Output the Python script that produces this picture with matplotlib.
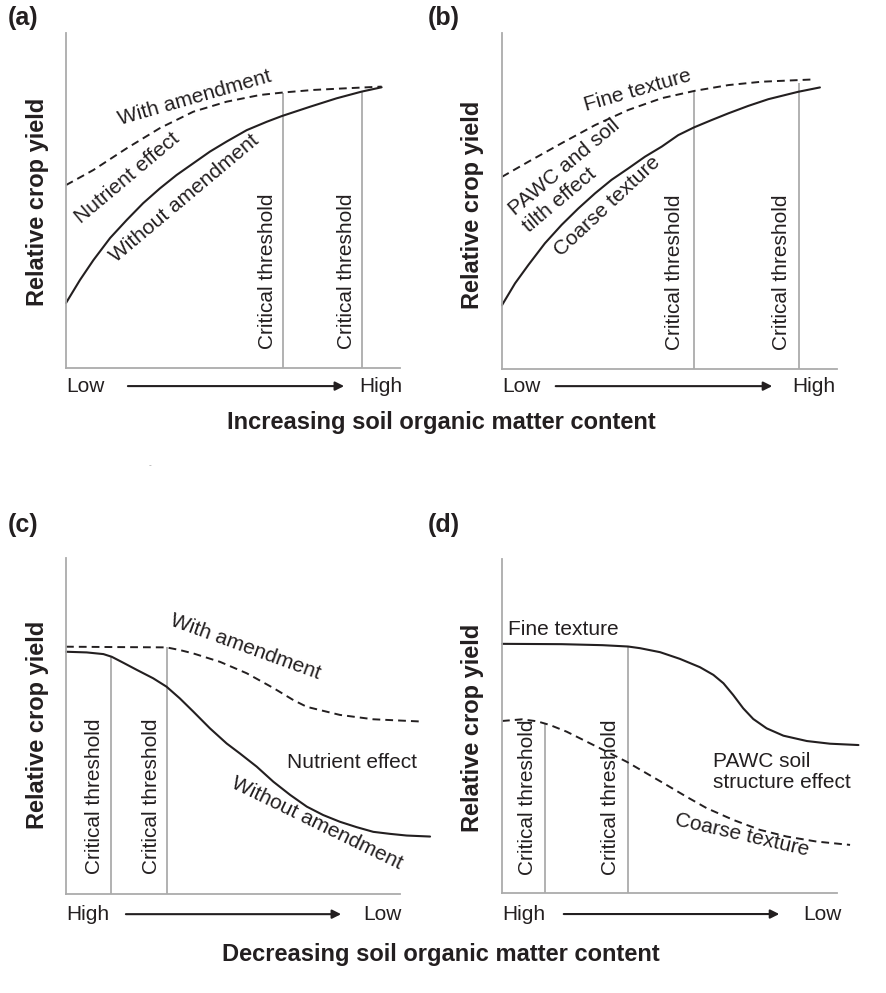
import numpy as np
import matplotlib.pyplot as plt

plt.rcParams['font.family'] = ['Liberation Sans', 'DejaVu Sans']

INK = '#231f20'
GRAY = '#ababab'
W, H = 887, 993

# (a) 增加有机质 - 改良剂
a_with_x = [0, 8.2, 18.2, 28.1, 38.1, 48.1, 58.1, 64.6, 74.0, 84.0, 94.5]
a_with_y = [54.6, 59.1, 65.6, 71.6, 76.5, 79.5, 81.5, 82.2, 83.0, 83.5, 84.0]
a_without_x = [0, 4.2, 8.2, 13.2, 18.2, 23.1, 28.1, 33.1, 38.1, 43.1, 48.1,
               54.1, 60.1, 64.6, 73.1, 81.0, 88.5, 94.5]
a_without_y = [19.4, 26.3, 32.2, 38.8, 44.2, 49.2, 53.6, 57.6, 61.1, 64.6, 67.6,
               71.0, 73.5, 75.2, 78.0, 80.5, 82.5, 83.8]
a_thresh_x = [65.0, 88.6]
a_thresh_top = [82.2, 82.6]

# (b) 增加有机质 - 质地
b_fine_x = [0, 7.9, 17.8, 27.8, 37.7, 47.7, 57.6, 67.6, 77.5, 93.4]
b_fine_y = [57.2, 61.7, 67.2, 72.6, 77.1, 80.6, 82.8, 84.5, 85.5, 86.2]
b_coarse_x = [0, 3.9, 7.9, 12.8, 17.8, 22.8, 27.8, 32.7, 37.7, 42.7, 47.7,
              52.6, 57.3, 62.6, 67.6, 73.5, 79.5, 88.4, 94.9]
b_coarse_y = [19.0, 25.5, 31.0, 37.4, 42.9, 47.8, 52.3, 56.3, 59.7, 63.2, 66.2,
              69.6, 71.9, 74.1, 76.1, 78.3, 80.3, 82.5, 83.8]
b_thresh_x = [57.3, 88.7]
b_thresh_top = [82.8, 85.2]

# (c) 减少有机质 - 改良剂
c_with_x = [0, 13.4, 30.1, 34.1, 38.1, 46.1, 54.1, 62.1, 68.1, 72.1, 82.0, 92.0, 107.0]
c_with_y = [73.6, 73.5, 73.4, 72.6, 71.6, 69.1, 65.7, 61.3, 57.7, 55.7, 53.3, 52.0, 51.3]
c_without_x = [0, 6.2, 11.2, 13.7, 17.2, 21.2, 26.1, 30.1, 34.1, 38.1, 43.1, 48.1,
               52.1, 57.1, 62.1, 67.1, 72.1, 77.0, 82.0, 87.0, 92.0, 97.0, 102.0, 109.0]
c_without_y = [72.1, 71.9, 71.4, 70.6, 68.8, 66.7, 64.2, 61.7, 58.2, 54.3, 49.3, 44.8,
               41.8, 37.9, 33.4, 29.5, 26.0, 23.5, 21.5, 19.9, 18.5, 17.9, 17.4, 17.1]
c_thresh_x = [13.4, 30.1]
c_thresh_top = [70.8, 73.4]

# (d) 减少有机质 - 质地
d_fine_x = [0, 17.8, 30.0, 37.6, 41.2, 47.2, 53.1, 59.1, 63.1, 66.1, 69.0, 72.0,
            75.0, 79.0, 84.0, 91.0, 97.9, 106.4]
d_fine_y = [74.6, 74.5, 74.2, 73.8, 73.3, 72.1, 70.1, 67.6, 65.3, 62.8, 59.3, 55.3,
            52.1, 49.3, 47.1, 45.5, 44.7, 44.3]
d_coarse_x = [0, 6.0, 10.5, 14.3, 19.3, 25.3, 31.3, 37.2, 43.2, 49.2, 55.1, 61.1,
              69.0, 77.0, 85.0, 93.9, 103.9]
d_coarse_y = [51.5, 52.0, 51.4, 50.3, 48.3, 45.3, 42.3, 39.3, 35.8, 32.3, 28.8, 25.4,
              21.9, 18.9, 16.9, 15.4, 14.4]
d_thresh_x = [12.9, 37.6]
d_thresh_top = [50.8, 73.8]


def make_axes(fig, left, top, right, bottom):
    ax = fig.add_axes([left / W, 1 - bottom / H, (right - left) / W, (bottom - top) / H])
    ax.set_xlim(0, 100)
    ax.set_ylim(0, 100)
    ax.spines['top'].set_visible(False)
    ax.spines['right'].set_visible(False)
    for s in ['left', 'bottom']:
        ax.spines[s].set_color(GRAY)
        ax.spines[s].set_linewidth(1.3)
    ax.set_xticks([])
    ax.set_yticks([])
    ax.patch.set_alpha(0)
    return ax


def draw_curves(ax, dashed_x, dashed_y, solid_x, solid_y, tx, ttop, ct_x, ct_y):
    ax.vlines(tx, 0, ttop, color=GRAY, lw=1.3)
    ax.plot(dashed_x, dashed_y, color=INK, lw=1.4, ls=(0, (4, 2.6)), clip_on=False)
    ax.plot(solid_x, solid_y, color=INK, lw=1.5, clip_on=False,
            solid_joinstyle='round', solid_capstyle='round')
    for x in ct_x:
        ax.text(x, ct_y, 'Critical threshold', rotation=90, ha='center', va='center',
                rotation_mode='anchor', fontsize=15, color=INK)


def draw_axis_arrow(ax, y, x0, x1, left_lab, right_lab, right_pos):
    ax.annotate('', xy=(x1, y), xytext=(x0, y),
                arrowprops=dict(arrowstyle='-|>', color=INK, lw=1.5, mutation_scale=13),
                annotation_clip=False)
    ax.text(0, y, left_lab, ha='left', va='center', fontsize=15, color=INK, clip_on=False)
    ax.text(right_pos, y, right_lab, ha='right', va='center', fontsize=15, color=INK,
            clip_on=False)


def label(ax, x, y, s, rot=0, ha='center', **kw):
    ax.text(x, y, s, rotation=rot, ha=ha, va='center', rotation_mode='anchor',
            fontsize=15, color=INK, clip_on=False, **kw)


fig = plt.figure(figsize=(W / 100, H / 100), dpi=100)

# (a)
ax = make_axes(fig, 66, 33, 400, 368)
draw_curves(ax, a_with_x, a_with_y, a_without_x, a_without_y, a_thresh_x, a_thresh_top,
            [60.2, 84.0], 29.0)
label(ax, 38.6, 80.5, 'With amendment', rot=16)
label(ax, 18.2, 56.6, 'Nutrient effect', rot=40)
label(ax, 35.6, 50.7, 'Without amendment', rot=40)
draw_axis_arrow(ax, -5.4, 17.7, 84.1, 'Low', 'High', 100.6)

# (b)
ax = make_axes(fig, 502, 33, 837, 369)
draw_curves(ax, b_fine_x, b_fine_y, b_coarse_x, b_coarse_y, b_thresh_x, b_thresh_top,
            [51.5, 83.5], 28.7)
label(ax, 40.5, 83.0, 'Fine texture', rot=16)
label(ax, 20.7, 57.5, 'PAWC and soil\ntilth effect', rot=40, multialignment='left',
      linespacing=1.25)
label(ax, 31.3, 48.3, 'Coarse texture', rot=43)
draw_axis_arrow(ax, -5.1, 15.2, 81.5, 'Low', 'High', 99.4)

# (c)
ax = make_axes(fig, 66, 558, 400, 894)
draw_curves(ax, c_with_x, c_with_y, c_without_x, c_without_y, c_thresh_x, c_thresh_top,
            [8.6, 25.5], 29.0)
label(ax, 53.6, 73.6, 'With amendment', rot=-20)
label(ax, 85.5, 39.1, 'Nutrient effect')
label(ax, 75.1, 21.0, 'Without amendment', rot=-26)
draw_axis_arrow(ax, -6.0, 17.1, 83.2, 'High', 'Low', 100.6)

# (d)
ax = make_axes(fig, 502, 559, 837, 893)
draw_curves(ax, d_coarse_x, d_coarse_y, d_fine_x, d_fine_y, d_thresh_x, d_thresh_top,
            [7.7, 32.5], 28.7)
label(ax, 1.9, 79.0, 'Fine texture', ha='left')
label(ax, 63.1, 36.2, 'PAWC soil\nstructure effect', ha='left', multialignment='left',
      linespacing=1.1)
label(ax, 71.5, 17.3, 'Coarse texture', rot=-13)
draw_axis_arrow(ax, -6.3, 17.6, 83.6, 'High', 'Low', 101.5)

# 标签
bold = dict(fontsize=17, fontweight='bold', color=INK)
for px, py, s in [(8, 18, '(a)'), (428, 18, '(b)'), (8, 525, '(c)'), (428, 525, '(d)')]:
    fig.text(px / W, 1 - py / H, s, ha='left', va='center', fontsize=18,
             fontweight='bold', color=INK)
for px, py in [(38, 202), (473, 205), (38, 725), (473, 728)]:
    fig.text(px / W, 1 - py / H, 'Relative crop yield', rotation=90, ha='center',
             va='center', **bold)
fig.text(441 / W, 1 - 422 / H, 'Increasing soil organic matter content',
         ha='center', va='center', **bold)
fig.text(441 / W, 1 - 955 / H, 'Decreasing soil organic matter content',
         ha='center', va='center', **bold)
# 小污点
fig.text(150 / W, 1 - 466 / H, '-', ha='center', va='center', fontsize=6, color='#999999')

fig.savefig('out.png', dpi=100)
